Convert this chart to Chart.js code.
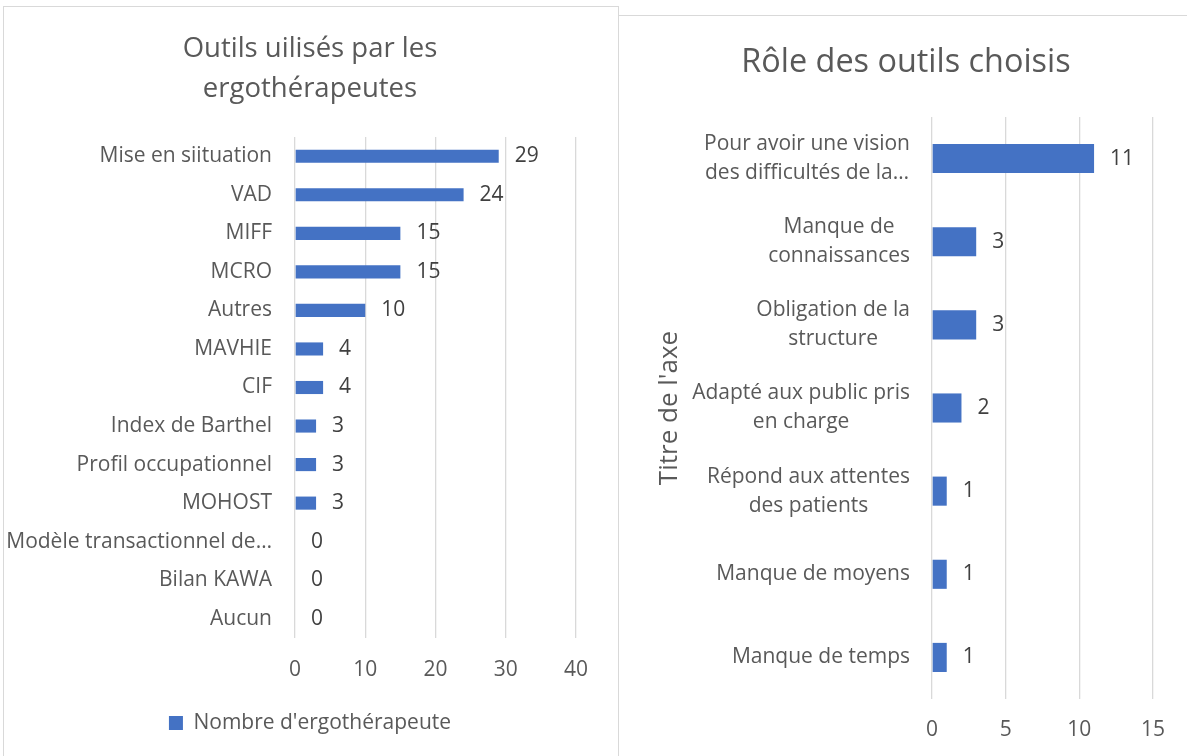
<!DOCTYPE html>
<html><head><meta charset="utf-8">
<script src="https://cdn.jsdelivr.net/npm/chart.js@4"></script>
<style>
html,body{margin:0;padding:0;background:#fff;width:1187px;height:756px;overflow:hidden;}
.panel{position:absolute;box-sizing:border-box;border:1px solid #d9d9d9;background:#fff;}
#p1{left:3px;top:6px;width:616px;height:800px;}
#p2{left:618px;top:15px;width:600px;height:800px;}
canvas{position:absolute;left:0;top:0;}
</style></head><body>
<div class="panel" id="p1"><canvas id="c1" width="614" height="749" style="width:614px;height:749px"></canvas></div>
<div class="panel" id="p2"><canvas id="c2" width="568" height="760" style="width:568px;height:760px"></canvas></div>
<script>
const toolCategories = ["Mise en siituation","VAD","MIFF","MCRO","Autres","MAVHIE","CIF","Index de Barthel","Profil occupationnel","MOHOST","Modèle transactionnel de…","Bilan KAWA","Aucun"];
const toolCounts = [29,24,15,15,10,4,4,3,3,3,0,0,0];
const toolTicks = [0,10,20,30,40];
const roleCategories = [["Pour avoir une vision","des difficultés de la…"],["Manque de","connaissances"],["Obligation de la","structure"],["Adapté aux public pris","en charge"],["Répond aux attentes","des patients"],"Manque de moyens","Manque de temps"];
const roleCounts = [11,3,3,2,1,1,1];
const roleTicks = [0,5,10,15];

const FAMILY = "'Open Sans', Lato, sans-serif";
const TXT = '#595959';
const BLUE = '#4472C4';
const GRID = '#d9d9d9';
const FS = 21;

const valueLabels = {
  id:'valueLabels',
  afterDatasetsDraw(chart, args, opts){
    const ctx = chart.ctx, meta = chart.getDatasetMeta(0), data = chart.data.datasets[0].data;
    ctx.save();
    ctx.font = FS + 'px ' + FAMILY;
    ctx.fillStyle = '#404040';
    ctx.textAlign = 'left';
    ctx.textBaseline = 'middle';
    meta.data.forEach((el,i)=>ctx.fillText(String(data[i]), el.x + opts.offset, el.y));
    ctx.restore();
  }
};

// category labels: each label block right-aligned to the axis, its lines centred within the block
const blockLabels = {
  id:'blockLabels',
  afterDraw(chart, args, opts){
    const s = chart.scales.y, ctx = chart.ctx;
    ctx.save();
    ctx.font = FS + 'px ' + FAMILY;
    ctx.fillStyle = TXT;
    ctx.textAlign = 'center';
    ctx.textBaseline = 'middle';
    chart.data.labels.forEach((lab,i)=>{
      const lines = [].concat(lab);
      const w = Math.max(...lines.map(l=>ctx.measureText(l).width));
      const cx = s.right - opts.padding - w/2;
      const y0 = s.getPixelForTick(i) - (lines.length-1)*opts.lineGap/2;
      lines.forEach((l,k)=>ctx.fillText(l, cx, y0 + k*opts.lineGap));
    });
    ctx.restore();
  }
};

new Chart(document.getElementById('c1'), {
  type:'bar',
  data:{labels:toolCategories, datasets:[{label:"Nombre d'ergothérapeute", data:toolCounts, backgroundColor:BLUE, borderWidth:0, barPercentage:0.34, categoryPercentage:1}]},
  plugins:[valueLabels, blockLabels],
  options:{
    indexAxis:'y', responsive:false, animation:false, events:[],
    layout:{padding:{left:40,right:42,top:0,bottom:12.5}},
    scales:{
      x:{min:0,max:40,
         afterBuildTicks(s){ s.ticks = toolTicks.map(v=>({value:v})); },
         grid:{color:GRID,lineWidth:1.3,drawTicks:false},
         border:{display:false},
         ticks:{color:TXT,font:{family:FAMILY,size:FS},padding:19.4}},
      y:{grid:{display:false,drawTicks:false},border:{display:false},
         afterFit(s){ s.width = 251; },
         ticks:{color:'rgba(0,0,0,0)',font:{family:FAMILY,size:FS},padding:23,autoSkip:false}}
    },
    plugins:{
      title:{display:true,text:["Outils uilisés par les","ergothérapeutes"],color:TXT,font:{family:FAMILY,size:27.5,weight:'normal',lineHeight:40/27.5},padding:{top:22,bottom:28}},
      legend:{display:true,position:'bottom',labels:{color:TXT,font:{family:FAMILY,size:FS},boxWidth:14,boxHeight:14,padding:10.5}},
      tooltip:{enabled:false},
      valueLabels:{offset:16},
      blockLabels:{padding:23,lineGap:29}
    }
  }
});

new Chart(document.getElementById('c2'), {
  type:'bar',
  data:{labels:roleCategories, datasets:[{label:"Rôle", data:roleCounts, backgroundColor:BLUE, borderWidth:0, barPercentage:0.35, categoryPercentage:1}]},
  plugins:[valueLabels, blockLabels],
  options:{
    indexAxis:'y', responsive:false, animation:false, events:[],
    layout:{padding:{left:40,right:34,top:0,bottom:14.2}},
    scales:{
      x:{min:0,max:15,
         afterBuildTicks(s){ s.ticks = roleTicks.map(v=>({value:v})); },
         grid:{color:GRID,lineWidth:1.3,drawTicks:false},
         border:{display:false},
         ticks:{color:TXT,font:{family:FAMILY,size:FS},padding:18.8}},
      y:{grid:{display:false,drawTicks:false},border:{display:false},
         afterFit(s){ s.width = 273; },
         title:{display:true,text:"Titre de l'axe",color:TXT,font:{family:FAMILY,size:26,lineHeight:0.85},padding:{top:0,bottom:0}},
         ticks:{color:'rgba(0,0,0,0)',font:{family:FAMILY,size:FS},padding:22,autoSkip:false}}
    },
    plugins:{
      title:{display:true,text:"Rôle des outils choisis",color:TXT,font:{family:FAMILY,size:32.4,weight:'normal',lineHeight:1.2},padding:{top:27.6,bottom:34.5}},
      legend:{display:false},
      tooltip:{enabled:false},
      valueLabels:{offset:16},
      blockLabels:{padding:22,lineGap:29}
    }
  }
});
</script>
</body></html>
